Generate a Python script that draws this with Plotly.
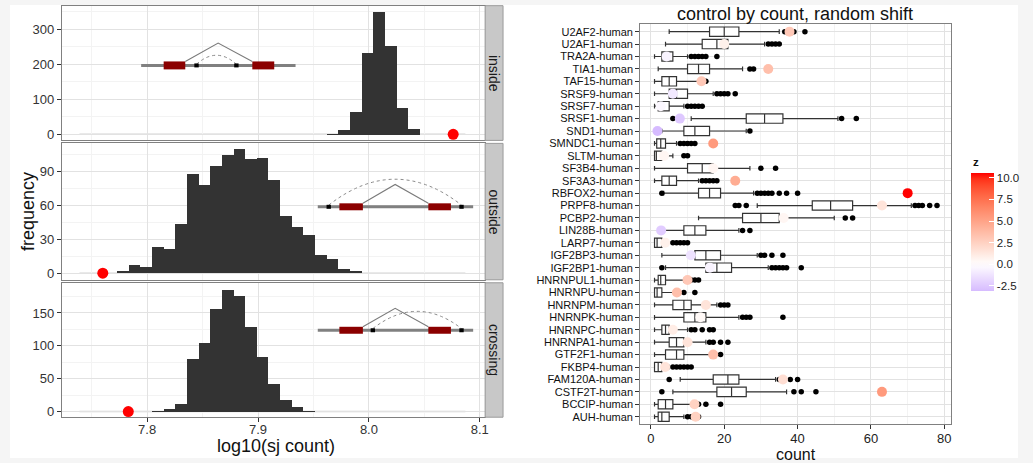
import numpy as np
import plotly.graph_objects as go

W, H = 1033, 463
FONT = "Liberation Sans, Arial, Helvetica, sans-serif"

# ---------------- left: histograms of log10(sj count) ----------------
facet_names = ["inside", "outside", "crossing"]
bin_width = 0.0105
inside_first_bin = 7.9617
inside_counts = [1, 12, 64, 234, 350, 252, 75, 17]
outside_first_bin = 7.7727
outside_counts = [1, 7, 5, 23, 21, 43, 87, 77, 94, 104, 109, 100, 101, 82, 50, 40, 33, 16, 12, 3, 1]
crossing_first_bin = 7.8042
crossing_counts = [1, 4, 12, 80, 105, 157, 186, 176, 129, 83, 43, 18, 7, 1]
observed_log10 = [8.076, 7.760, 7.783]
hist_x_ticks = [7.8, 7.9, 8.0, 8.1]
hist_y_ticks = [[0, 100, 200, 300], [0, 30, 60, 90], [0, 50, 100, 150]]

# ---------------- right: control by count, random shift ----------------
genes = ["U2AF2-human", "U2AF1-human", "TRA2A-human", "TIA1-human", "TAF15-human",
         "SRSF9-human", "SRSF7-human", "SRSF1-human", "SND1-human", "SMNDC1-human",
         "SLTM-human", "SF3B4-human", "SF3A3-human", "RBFOX2-human", "PRPF8-human",
         "PCBP2-human", "LIN28B-human", "LARP7-human", "IGF2BP3-human", "IGF2BP1-human",
         "HNRNPUL1-human", "HNRNPU-human", "HNRNPM-human", "HNRNPK-human", "HNRNPC-human",
         "HNRNPA1-human", "GTF2F1-human", "FKBP4-human", "FAM120A-human", "CSTF2T-human",
         "BCCIP-human", "AUH-human"]
whisker_low = [5, 4, 1, 2, 1, 1, 1, 11, 3, 1, 1, 1, 1, 3.5, 29, 13, 2, 1, 3, 4,
               1, 1, 1, 1, 1, 1, 1, 1, 8, 6, 1, 1]
q1 = [16, 14, 3, 10, 3, 5, 2, 26, 9, 1.6, 1, 10, 3, 13, 44, 25, 9, 1, 12, 15,
      2, 1, 6, 9, 3, 5, 4, 1, 17, 18, 2, 2]
median = [20, 18, 4, 13, 5, 7, 3, 31, 12, 2.7, 1.5, 14, 5, 16, 49, 30, 12, 1.7, 15, 18,
          2.7, 1.7, 9, 12, 4, 7, 7, 2, 21, 22, 4, 3]
q3 = [24, 21, 6, 16, 7, 10, 5, 36, 16, 4, 3, 17, 7, 19, 55, 35, 15, 3, 19, 22,
      4, 3, 11, 15, 5, 9, 9, 3, 24, 26, 6, 5]
whisker_high = [35, 31, 10, 25, 13, 17, 9, 51, 26, 7, 6, 27, 13, 28, 71, 50, 24, 4, 29, 32,
                9, 7, 18, 24, 10, 15, 16, 5, 34, 37, 11, 9]
outliers = [[36.5, 39, 42], [32, 33, 34, 35], [11, 12, 13, 14, 15, 18], [27, 28], [15],
            [18, 19, 20, 21, 23], [10, 11, 12, 13, 14], [6, 52, 56], [27], [8, 9, 10, 11, 12],
            [9, 10], [30, 34], [14, 15, 16, 17, 18], [3, 29, 30, 31, 32, 33, 35, 37, 40],
            [23, 24, 26, 72, 73, 74, 76, 78], [53, 55], [25, 27], [6, 7, 8, 9, 10],
            [30, 31, 33, 36], [3, 33, 34, 35, 36, 37, 41], [11, 12, 13], [9, 12], [19, 20, 21],
            [25, 26, 27, 36], [11, 12, 14, 16, 17], [16, 17, 19, 21], [19],
            [6, 7, 8, 9, 10, 11], [5, 35, 38, 40], [3, 39, 41, 45], [13, 15, 19], [10, 11, 12, 13]]
observed_count = [37.8, 20, 4.3, 32, 13.8, 6, 2.7, 7.9, 1.8, 17, 3.6, 17, 23, 70, 63, 36.2,
                  2.8, 3.9, 10.9, 16.1, 10, 7.1, 15, 13.5, 6, 10, 17, 3.9, 36, 63, 11.9, 12.2]
z = [3.0, 0.8, -0.5, 3.5, 3.0, -1.0, -0.3, -2.5, -3.08, 5.5, 0.5, 0.5, 4.5, 10.58, 1.5, 0.5,
     -2.3, 0.8, -1.3, -0.5, 3.0, 3.5, 1.5, 0.3, 1.0, 1.5, 3.5, 1.5, 1.8, 5.5, 2.5, 2.5]
count_ticks = [0, 20, 40, 60, 80]
z_ticks = [-2.5, 0.0, 2.5, 5.0, 7.5, 10.0]


# ---------------- colour helpers (Lab interpolation like ggplot) ----------------
def _hex2rgb(h):
    h = h.lstrip("#")
    return [int(h[i:i + 2], 16) / 255 for i in (0, 2, 4)]


def _rgb2lab(c):
    lin = [x / 12.92 if x <= 0.04045 else ((x + 0.055) / 1.055) ** 2.4 for x in c]
    r, g, b = lin
    X = (0.4124 * r + 0.3576 * g + 0.1805 * b) / 0.95047
    Y = (0.2126 * r + 0.7152 * g + 0.0722 * b) / 1.0
    Z = (0.0193 * r + 0.1192 * g + 0.9505 * b) / 1.08883
    d = 6 / 29
    f = lambda t: t ** (1 / 3) if t > d ** 3 else t / (3 * d * d) + 4 / 29
    fx, fy, fz = f(X), f(Y), f(Z)
    return [116 * fy - 16, 500 * (fx - fy), 200 * (fy - fz)]


def _lab2hex(lab):
    L, a, b = lab
    fy = (L + 16) / 116
    fx = fy + a / 500
    fz = fy - b / 200
    d = 6 / 29
    fi = lambda t: t ** 3 if t > d else 3 * d * d * (t - 4 / 29)
    X, Y, Z = fi(fx) * 0.95047, fi(fy), fi(fz) * 1.08883
    r = 3.2406 * X - 1.5372 * Y - 0.4986 * Z
    g = -0.9689 * X + 1.8758 * Y + 0.0415 * Z
    bb = 0.0557 * X - 0.2040 * Y + 1.0570 * Z
    out = []
    for c in (r, g, bb):
        c = 12.92 * c if c <= 0.0031308 else 1.055 * c ** (1 / 2.4) - 0.055
        out.append(int(round(min(max(c, 0), 1) * 255)))
    return "#%02x%02x%02x" % tuple(out)


def _mix(h1, h2, t):
    l1, l2 = _rgb2lab(_hex2rgb(h1)), _rgb2lab(_hex2rgb(h2))
    return _lab2hex([l1[i] + (l2[i] - l1[i]) * t for i in range(3)])


zmin, zmax = min(z), max(z)
zext = max(abs(zmin), abs(zmax))
colorscale = []
for t in np.linspace(0, 1, 21):
    v = zmin + t * (zmax - zmin)
    s = v / (2 * zext) + 0.5
    if s < 0.5:
        col = _mix("#0000ff", "#ffffff", s / 0.5)
    else:
        col = _mix("#ffffff", "#ff0000", (s - 0.5) / 0.5)
    colorscale.append([float(t), col])


# ---------------- layout helpers ----------------
def px(x):
    return x / W


def py(y):
    return 1 - y / H


panel_rows_px = [(5.7, 141.0), (144.0, 281.0), (284.0, 419.0)]
left_x_px = (62.0, 487.0)
strip_x_px = (487.0, 505.0)
y_ranges = [[-17.5, 367.5], [-5.8, 114.4], [-8.6, 196.0]]
x_range = [7.723, 8.1048]

fig = go.Figure()

firsts = [inside_first_bin, outside_first_bin, crossing_first_bin]
counts_all = [inside_counts, outside_counts, crossing_counts]
for i in range(3):
    ax = "" if i == 0 else str(i + 1)
    centers = firsts[i] + bin_width * (np.arange(len(counts_all[i])) + 0.5)
    fig.add_trace(go.Bar(x=centers, y=counts_all[i], width=bin_width,
                         marker=dict(color="#333333", line=dict(width=0)),
                         xaxis="x" + ax, yaxis="y" + ax, showlegend=False, hoverinfo="skip"))
    fig.add_trace(go.Scatter(x=[observed_log10[i]], y=[0], mode="markers",
                             marker=dict(color="#ff0000", size=11),
                             xaxis="x" + ax, yaxis="y" + ax, showlegend=False, hoverinfo="skip"))

# right: boxes
fig.add_trace(go.Box(y=genes, q1=q1, median=median, q3=q3, lowerfence=whisker_low,
                     upperfence=whisker_high, orientation="h", width=0.75,
                     fillcolor="white", line=dict(color="#333333", width=1.2),
                     boxpoints=False, xaxis="x4", yaxis="y4", showlegend=False, hoverinfo="skip"))
ox, oy = [], []
for g, outs in zip(genes, outliers):
    for v in outs:
        ox.append(v)
        oy.append(g)
fig.add_trace(go.Scatter(x=ox, y=oy, mode="markers", marker=dict(color="black", size=5.5),
                         xaxis="x4", yaxis="y4", showlegend=False, hoverinfo="skip"))
fig.add_trace(go.Scatter(
    x=observed_count, y=genes, mode="markers", xaxis="x4", yaxis="y4", showlegend=False,
    hoverinfo="skip",
    marker=dict(size=10, color=z, colorscale=colorscale, cmin=zmin, cmax=zmax, showscale=True,
                colorbar=dict(x=px(975), xanchor="left", y=py(232.85), yanchor="middle",
                              len=117.7, lenmode="pixels", thickness=23, thicknessmode="pixels",
                              outlinewidth=0, ticks="inside", ticklen=5, tickcolor="white",
                              tickvals=z_ticks, ticktext=["%.1f" % v for v in z_ticks],
                              tickfont=dict(size=11.5, color="#222", family=FONT), xpad=0, ypad=0))))

grid_major = "#e2e2e2"
grid_minor = "#f3f3f3"
layout = dict(width=W, height=H, margin=dict(l=0, r=0, t=0, b=0, pad=0),
              paper_bgcolor="#f5f5f5", plot_bgcolor="white",
              font=dict(family=FONT, color="#222"), bargap=0)

for i in range(3):
    ax = "" if i == 0 else str(i + 1)
    ytop, ybot = panel_rows_px[i]
    xa = dict(domain=[px(left_x_px[0]), px(left_x_px[1])], range=x_range, anchor="y" + ax,
              tickmode="array", tickvals=hist_x_ticks, ticktext=["%.1f" % v for v in hist_x_ticks],
              showgrid=True, gridcolor=grid_major, gridwidth=1, zeroline=False,
              minor=dict(tickvals=[7.75, 7.85, 7.95, 8.05], showgrid=True, gridcolor=grid_minor),
              showline=True, mirror=True, linecolor="#808080", linewidth=1)
    if i == 2:
        xa.update(ticks="outside", ticklen=4, tickcolor="#333", showticklabels=True,
                  ticklabelstandoff=-4, tickfont=dict(size=13, color="#333"))
    else:
        xa.update(ticks="", showticklabels=False)
    yt = hist_y_ticks[i]
    step = yt[1] - yt[0]
    ya = dict(domain=[py(ybot), py(ytop)], range=y_ranges[i], anchor="x" + ax,
              tickmode="array", tickvals=yt, ticks="outside", ticklen=4, tickcolor="#333",
              tickfont=dict(size=13, color="#333"), showgrid=True, gridcolor=grid_major,
              minor=dict(tickvals=[v + step / 2 for v in yt], showgrid=True, gridcolor=grid_minor),
              zeroline=False, showline=True, mirror=True, linecolor="#808080", linewidth=1)
    layout["xaxis" + ax] = xa
    layout["yaxis" + ax] = ya

layout["xaxis4"] = dict(domain=[px(642.7), px(955)], range=[-2.9, 81.9], anchor="y4",
                        tickmode="array", tickvals=count_ticks, ticks="outside", ticklen=4,
                        tickcolor="#333", ticklabelstandoff=-2,
                        tickfont=dict(size=13, color="#222"), showgrid=True, gridcolor=grid_major,
                        minor=dict(tickvals=[10, 30, 50, 70], showgrid=True, gridcolor=grid_minor),
                        zeroline=False, showline=True, mirror=True, linecolor="#808080", linewidth=1)
layout["yaxis4"] = dict(domain=[py(426), py(24.3)], range=[-0.6, 31.6], anchor="x4",
                        type="category", categoryorder="array", categoryarray=genes[::-1],
                        tickmode="array", tickvals=genes, ticktext=genes,
                        ticks="outside", ticklen=4, tickcolor="#333",
                        tickfont=dict(size=11, color="#111"), showgrid=True, gridcolor=grid_major,
                        zeroline=False, showline=True, mirror=True, linecolor="#808080", linewidth=1)

shapes = []
# white canvas
shapes.append(dict(type="rect", xref="paper", yref="paper", x0=px(10), x1=px(1022),
                   y0=py(460), y1=py(5), fillcolor="white", line=dict(width=0), layer="below"))
# facet strips
annotations = []
for i, name in enumerate(facet_names):
    ytop, ybot = panel_rows_px[i]
    shapes.append(dict(type="rect", xref="paper", yref="paper", x0=px(strip_x_px[0]),
                       x1=px(strip_x_px[1]), y0=py(ybot), y1=py(ytop), fillcolor="#c8c8c8",
                       line=dict(color="#9a9a9a", width=1)))
    annotations.append(dict(text=name, xref="paper", yref="paper",
                            x=px((strip_x_px[0] + strip_x_px[1]) / 2), y=py((ytop + ybot) / 2),
                            textangle=90, showarrow=False, font=dict(size=14, color="#1a1a1a"),
                            xanchor="center", yanchor="middle"))
    ax = "" if i == 0 else str(i + 1)
    # faint zero-count baseline of the histogram range
    shapes.append(dict(type="line", xref="x" + ax, yref="y" + ax, x0=7.739, x1=8.087, y0=0, y1=0,
                       line=dict(color="#d4d4d4", width=1.5), layer="below"))


# gene-model sketches (decorations), in pixel coordinates
def sketch(line_x, line_y, boxes, box_h, peak, arc, dots):
    out = []
    out.append(dict(type="line", xref="paper", yref="paper", x0=px(line_x[0]), x1=px(line_x[1]),
                    y0=py(line_y), y1=py(line_y), line=dict(color="#808080", width=3)))
    for b0, b1 in boxes:
        out.append(dict(type="rect", xref="paper", yref="paper", x0=px(b0), x1=px(b1),
                        y0=py(line_y + box_h / 2), y1=py(line_y - box_h / 2),
                        fillcolor="#8b0000", line=dict(width=0)))
    ytop_box = line_y - box_h / 2
    out.append(dict(type="path", xref="paper", yref="paper",
                    path="M %f,%f L %f,%f L %f,%f" % (px(boxes[0][1]), py(ytop_box), px(peak[0]),
                                                       py(peak[1]), px(boxes[1][0]), py(ytop_box)),
                    line=dict(color="#7a7a7a", width=1.1)))
    (a0, a1, ay, apk, apx) = arc
    cy = 2 * apk - ay
    out.append(dict(type="path", xref="paper", yref="paper",
                    path="M %f,%f Q %f,%f %f,%f" % (px(a0), py(ay), px(apx), py(cy), px(a1), py(ay)),
                    line=dict(color="#8a8a8a", width=1, dash="dot")))
    for d in dots:
        out.append(dict(type="rect", xref="paper", yref="paper", x0=px(d - 2.2), x1=px(d + 2.2),
                        y0=py(line_y + 2), y1=py(line_y - 2), fillcolor="black", line=dict(width=0)))
    return out


shapes += sketch((141.7, 296.7), 65.7, [(164.3, 186.0), (253.3, 275.3)], 8, (219, 43.3),
                 (197.3, 237.3, 64.5, 55.5, 217.3), [197.3, 237.3])
shapes += sketch((319, 475), 207.7, [(340.7, 364.3), (430, 452.7)], 7, (396.7, 185.3),
                 (330, 463.3, 206, 180, 396.7), [330, 463.3])
shapes += sketch((319, 475), 331.7, [(340.7, 364.3), (430, 452.7)], 7, (396.7, 309.7),
                 (374.3, 463.3, 330, 312.7, 418.8), [374.3, 463.3])

# titles
annotations += [
    dict(text="frequency", xref="paper", yref="paper", x=px(28), y=py(212), textangle=-90,
         showarrow=False, font=dict(size=18, color="#111"), xanchor="center", yanchor="middle"),
    dict(text="log10(sj count)", xref="paper", yref="paper", x=px(277), y=py(448),
         showarrow=False, font=dict(size=18, color="#111"), xanchor="center", yanchor="middle"),
    dict(text="count", xref="paper", yref="paper", x=px(799), y=py(456),
         showarrow=False, font=dict(size=16, color="#111"), xanchor="center", yanchor="middle"),
    dict(text="control by count, random shift", xref="paper", yref="paper", x=px(798), y=py(14),
         showarrow=False, font=dict(size=18, color="#111"), xanchor="center", yanchor="middle"),
    dict(text="<b>z</b>", xref="paper", yref="paper", x=px(975), y=py(163),
         showarrow=False, font=dict(size=11.5, color="#111"), xanchor="left", yanchor="middle"),
]

layout["shapes"] = shapes
layout["annotations"] = annotations
fig.update_layout(**layout)
fig.write_html("out.html")
